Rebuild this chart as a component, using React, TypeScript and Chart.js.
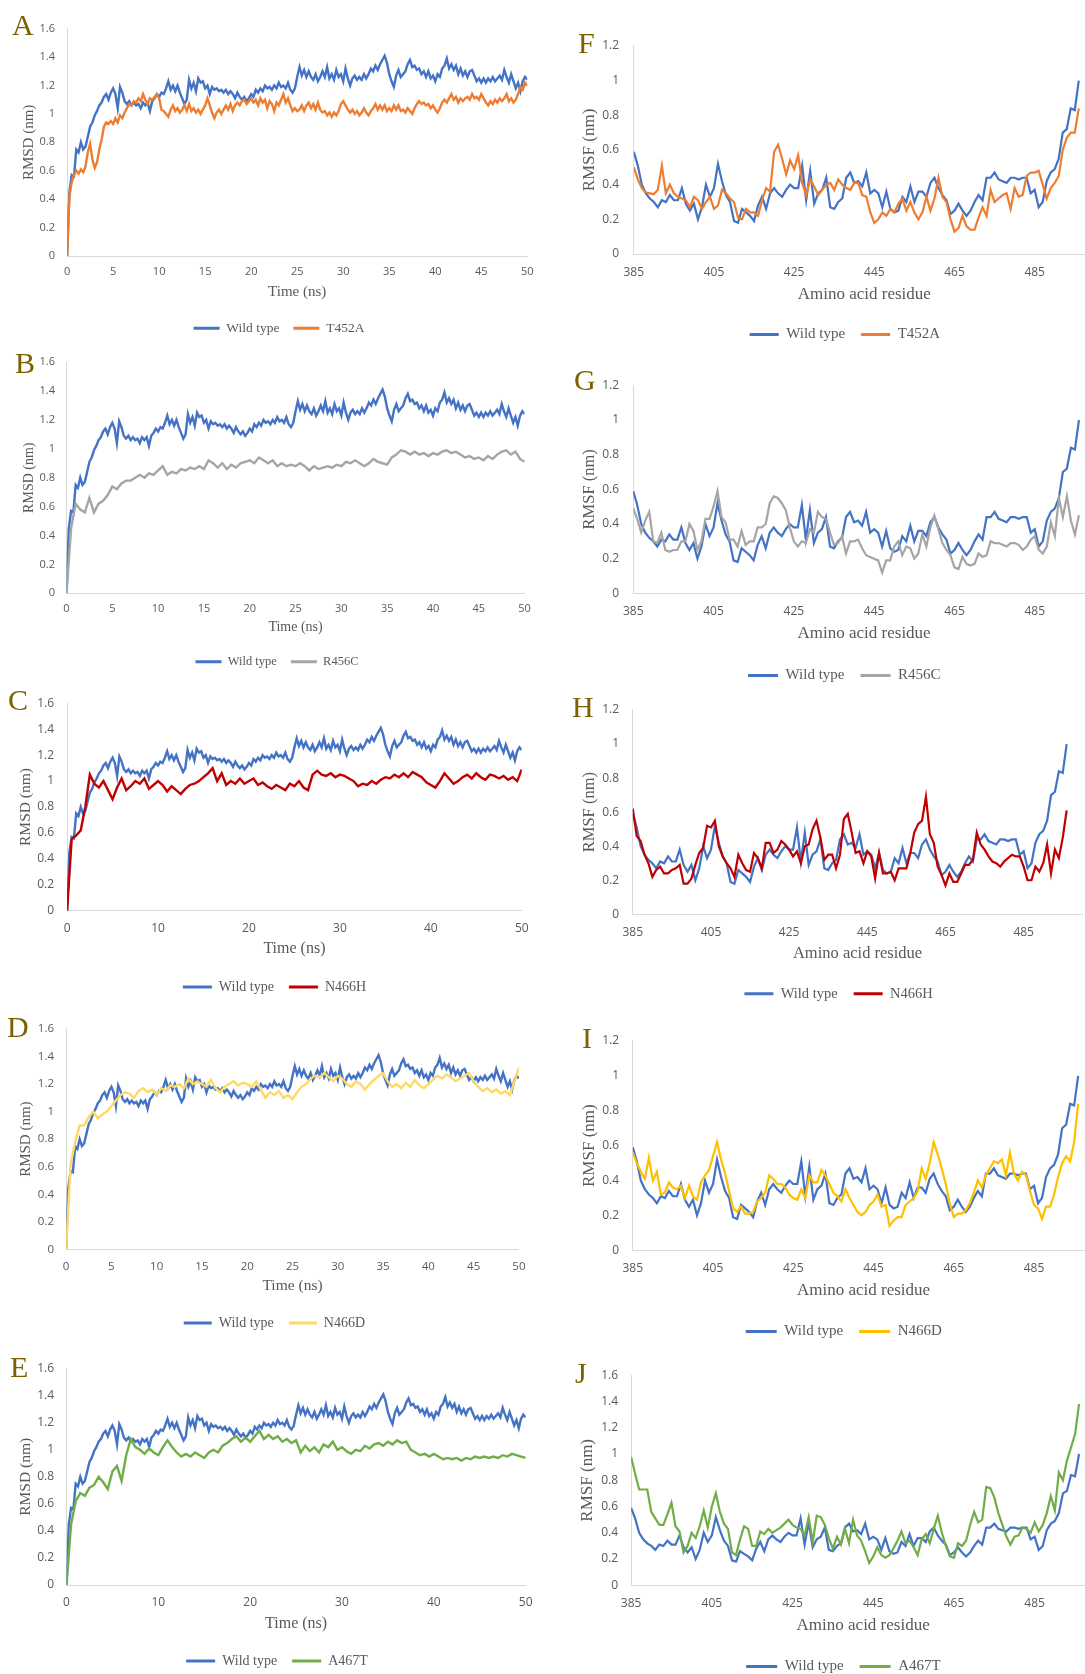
import React, { useEffect, useRef } from "react";
import { Chart, registerables } from "chart.js";
Chart.register(...registerables);

// ---------------- DATA ----------------
// Wild type and T452A RMSD (nm), sampled every 0.25 ns from 0 to 50 ns
const RMSD_WT = [
  0, 0.45, 0.57, 0.56, 0.75, 0.73, 0.80, 0.75, 0.77, 0.84,
  0.91, 0.94, 0.99, 1.02, 1.06, 1.08, 1.12, 1.14, 1.10, 1.15,
  1.18, 1.14, 1.04, 1.19, 1.15, 1.09, 1.07, 1.09, 1.06, 1.08,
  1.06, 1.07, 1.04, 1.08, 1.06, 1.08, 1.02, 1.09, 1.11, 1.14,
  1.12, 1.15, 1.14, 1.18, 1.23, 1.17, 1.20, 1.16, 1.20, 1.15,
  1.11, 1.07, 1.10, 1.24, 1.18, 1.22, 1.16, 1.25, 1.22, 1.23,
  1.18, 1.20, 1.14, 1.19, 1.17, 1.18, 1.16, 1.17, 1.15, 1.17,
  1.14, 1.16, 1.14, 1.11, 1.15, 1.12, 1.10, 1.12, 1.09, 1.11,
  1.14, 1.12, 1.17, 1.15, 1.18, 1.16, 1.20, 1.18, 1.19, 1.17,
  1.20, 1.18, 1.22, 1.19, 1.20, 1.18, 1.22, 1.17, 1.15, 1.18,
  1.26, 1.33, 1.27, 1.31, 1.26, 1.30, 1.26, 1.24, 1.28, 1.23,
  1.26, 1.30, 1.26, 1.33, 1.25, 1.28, 1.24, 1.31, 1.26, 1.28,
  1.23, 1.32, 1.25, 1.20, 1.25, 1.27, 1.24, 1.26, 1.24, 1.28,
  1.25, 1.28, 1.32, 1.30, 1.34, 1.31, 1.35, 1.38, 1.41, 1.36,
  1.28, 1.23, 1.19, 1.27, 1.31, 1.26, 1.28, 1.30, 1.35, 1.38,
  1.33, 1.34, 1.31, 1.32, 1.28, 1.30, 1.26, 1.30, 1.25, 1.27,
  1.23, 1.28, 1.26, 1.32, 1.34, 1.39, 1.32, 1.35, 1.31, 1.34,
  1.28, 1.32, 1.27, 1.30, 1.26, 1.30, 1.31, 1.27, 1.23, 1.25,
  1.22, 1.25, 1.22, 1.25, 1.23, 1.26, 1.23, 1.25, 1.27, 1.24,
  1.31, 1.26, 1.22, 1.28, 1.23, 1.18, 1.22, 1.16, 1.23, 1.26,
  1.24,
];
const RMSD_T452A = [
  0, 0.42, 0.52, 0.57, 0.60, 0.58, 0.61, 0.59, 0.63, 0.73,
  0.79, 0.68, 0.62, 0.66, 0.75, 0.82, 0.91, 0.94, 0.93, 0.95,
  0.93, 0.97, 0.94, 0.99, 0.97, 1.01, 1.04, 1.07, 1.06, 1.09,
  1.08, 1.11, 1.09, 1.14, 1.10, 1.07, 1.11, 1.10, 1.12, 1.14,
  1.11, 1.03, 1.02, 1.00, 0.98, 1.03, 1.06, 1.02, 1.04, 1.01,
  1.03, 1.06, 1.02, 1.07, 1.02, 1.04, 1.01, 1.03, 1.00, 1.03,
  1.06, 1.11, 1.06, 1.01, 0.97, 1.01, 1.03, 1.00, 1.03, 1.06,
  1.03, 1.07, 1.02, 1.06, 1.08, 1.06, 1.09, 1.10, 1.07, 1.09,
  1.11, 1.08, 1.10, 1.06, 1.11, 1.08, 1.10, 1.04, 1.09, 1.07,
  1.02, 1.08, 1.06, 1.10, 1.14, 1.08, 1.11, 1.06, 1.02, 1.04,
  1.02, 1.03, 1.06, 1.02, 1.06, 1.08, 1.04, 1.07, 1.03, 1.08,
  1.03, 1.01, 1.02, 0.99, 1.01, 0.98, 1.01, 0.99, 1.02, 1.07,
  1.09, 1.06, 1.03, 1.01, 1.03, 1.00, 1.02, 0.99, 1.01, 1.04,
  1.01, 0.99, 1.02, 1.04, 1.07, 1.03, 1.06, 1.03, 1.06, 1.02,
  1.04, 1.02, 1.06, 1.03, 1.06, 1.02, 1.03, 1.01, 1.04, 1.02,
  1.00, 1.04, 1.07, 1.09, 1.07, 1.08, 1.06, 1.07, 1.04, 1.06,
  1.03, 1.01, 1.04, 1.08, 1.10, 1.08, 1.11, 1.14, 1.10, 1.12,
  1.08, 1.11, 1.09, 1.11, 1.12, 1.10, 1.14, 1.11, 1.12, 1.10,
  1.14, 1.11, 1.08, 1.06, 1.09, 1.07, 1.10, 1.08, 1.11, 1.09,
  1.11, 1.14, 1.09, 1.11, 1.08, 1.10, 1.14, 1.19, 1.17, 1.22,
  1.20,
];
// Other mutants' RMSD (nm), sampled every 0.5 ns from 0 to 50 ns
const RMSD_R456C = [
  0, 0.45, 0.62, 0.58, 0.56, 0.66, 0.56, 0.62, 0.64, 0.68,
  0.74, 0.72, 0.76, 0.78, 0.78, 0.80, 0.82, 0.80, 0.83, 0.82,
  0.85, 0.88, 0.82, 0.84, 0.83, 0.86, 0.85, 0.87, 0.86, 0.88,
  0.86, 0.92, 0.90, 0.87, 0.90, 0.86, 0.89, 0.87, 0.90, 0.91,
  0.92, 0.90, 0.94, 0.92, 0.90, 0.92, 0.88, 0.90, 0.88, 0.89,
  0.88, 0.90, 0.88, 0.85, 0.88, 0.86, 0.87, 0.88, 0.87, 0.89,
  0.88, 0.91, 0.90, 0.92, 0.90, 0.88, 0.90, 0.93, 0.91, 0.90,
  0.89, 0.94, 0.96, 0.99, 0.98, 0.96, 0.98, 0.96, 0.97, 0.95,
  0.97, 0.96, 0.98, 0.99, 0.97, 0.98, 0.96, 0.94, 0.95, 0.93,
  0.94, 0.92, 0.95, 0.93, 0.96, 0.98, 0.99, 0.96, 0.98, 0.93,
  0.91,
];
const RMSD_N466H = [
  0, 0.55, 0.58, 0.62, 0.80, 1.05, 0.98, 0.95, 1.00, 0.93,
  0.86, 0.95, 1.02, 0.93, 0.96, 1.00, 0.98, 1.02, 0.94, 0.97,
  1.00, 0.97, 0.92, 0.96, 0.93, 0.90, 0.94, 0.97, 0.98, 1.00,
  1.03, 1.06, 1.10, 1.00, 1.06, 0.97, 1.00, 0.98, 1.02, 0.98,
  1.00, 1.02, 0.97, 0.99, 0.96, 0.94, 0.97, 0.95, 0.93, 0.98,
  0.96, 1.00, 0.95, 0.93, 1.05, 1.08, 1.05, 1.04, 1.06, 1.03,
  1.05, 1.04, 1.02, 1.00, 0.96, 0.98, 0.97, 1.00, 0.98, 1.01,
  1.03, 1.02, 1.05, 1.03, 1.06, 1.03, 1.07, 1.05, 1.03, 0.99,
  0.97, 0.95, 1.00, 1.06, 1.02, 0.98, 1.00, 1.03, 1.05, 1.02,
  1.06, 1.03, 1.01, 1.05, 1.04, 1.02, 1.04, 1.01, 1.03, 1.00,
  1.09,
];
const RMSD_N466D = [
  0, 0.62, 0.78, 0.90, 0.90, 0.96, 1.00, 0.95, 0.98, 1.00,
  1.04, 1.08, 1.12, 1.14, 1.13, 1.10, 1.15, 1.17, 1.14, 1.16,
  1.12, 1.17, 1.15, 1.19, 1.18, 1.20, 1.17, 1.24, 1.20, 1.22,
  1.20, 1.18, 1.23, 1.17, 1.14, 1.18, 1.20, 1.22, 1.19, 1.21,
  1.20, 1.18, 1.22, 1.16, 1.10, 1.14, 1.12, 1.15, 1.10, 1.12,
  1.09, 1.14, 1.18, 1.20, 1.24, 1.26, 1.25, 1.28, 1.25, 1.22,
  1.26, 1.24, 1.20, 1.18, 1.22, 1.20, 1.16, 1.20, 1.23, 1.26,
  1.28, 1.22, 1.18, 1.20, 1.17, 1.21, 1.18, 1.23, 1.19, 1.17,
  1.20, 1.23, 1.26, 1.24, 1.27, 1.25, 1.22, 1.24, 1.26, 1.28,
  1.22, 1.18, 1.15, 1.17, 1.14, 1.16, 1.13, 1.15, 1.12, 1.22,
  1.32,
];
const RMSD_A467T = [
  0, 0.45, 0.62, 0.68, 0.66, 0.72, 0.74, 0.80, 0.76, 0.71,
  0.84, 0.88, 0.77, 0.96, 1.08, 1.02, 1.00, 0.97, 1.01, 0.98,
  0.96, 1.02, 1.07, 1.02, 0.98, 0.95, 0.97, 0.95, 0.98, 0.96,
  0.94, 0.98, 1.00, 0.98, 1.03, 1.05, 1.08, 1.10, 1.06, 1.09,
  1.06, 1.10, 1.14, 1.08, 1.11, 1.08, 1.10, 1.06, 1.08, 1.05,
  1.07, 0.98, 1.03, 0.99, 1.02, 0.98, 1.04, 1.02, 1.06, 1.00,
  1.02, 0.99, 0.97, 1.00, 0.99, 1.03, 1.01, 1.04, 1.05, 1.03,
  1.06, 1.04, 1.07, 1.05, 1.06, 1.00, 0.98, 0.96, 0.97, 0.95,
  0.97, 0.95, 0.93, 0.94, 0.93, 0.94, 0.92, 0.94, 0.93, 0.95,
  0.94, 0.95, 0.94, 0.95, 0.94, 0.96, 0.95, 0.97, 0.96, 0.95,
  0.94,
];

// RMSF (nm) per residue, residues 385..496
const RMSF_WT = [
  0.59, 0.51, 0.40, 0.35, 0.32, 0.30, 0.27, 0.31, 0.30, 0.34,
  0.31, 0.31, 0.38, 0.29, 0.25, 0.29, 0.20, 0.27, 0.40, 0.33,
  0.38, 0.52, 0.42, 0.34, 0.30, 0.19, 0.18, 0.26, 0.24, 0.22,
  0.19, 0.28, 0.33, 0.26, 0.35, 0.38, 0.35, 0.33, 0.37, 0.40,
  0.38, 0.38, 0.51, 0.31, 0.48, 0.29, 0.35, 0.37, 0.44, 0.27,
  0.26, 0.30, 0.32, 0.44, 0.47, 0.41, 0.42, 0.39, 0.47, 0.35,
  0.37, 0.35, 0.27, 0.36, 0.26, 0.24, 0.25, 0.33, 0.30, 0.39,
  0.30, 0.36, 0.36, 0.33, 0.41, 0.44, 0.38, 0.34, 0.31, 0.23,
  0.25, 0.29, 0.25, 0.22, 0.25, 0.30, 0.34, 0.31, 0.44, 0.44,
  0.47, 0.43, 0.42, 0.41, 0.44, 0.44, 0.43, 0.44, 0.44, 0.35,
  0.37, 0.27, 0.30, 0.42, 0.47, 0.49, 0.55, 0.70, 0.72, 0.84,
  0.83, 1.00,
];
const RMSF_T452A = [
  0.50, 0.43, 0.38, 0.355, 0.35, 0.345, 0.37, 0.51, 0.35, 0.40,
  0.35, 0.33, 0.32, 0.31, 0.27, 0.33, 0.31, 0.26, 0.30, 0.33,
  0.26, 0.28, 0.37, 0.35, 0.32, 0.30, 0.21, 0.20, 0.26, 0.24,
  0.24, 0.22, 0.31, 0.38, 0.36, 0.59, 0.63, 0.55, 0.46, 0.54,
  0.49, 0.57, 0.41, 0.34, 0.43, 0.39, 0.34, 0.37, 0.40, 0.41,
  0.37, 0.43, 0.40, 0.38, 0.37, 0.41, 0.41, 0.34, 0.33, 0.24,
  0.18, 0.20, 0.24, 0.22, 0.26, 0.24, 0.29, 0.32, 0.25, 0.30,
  0.24, 0.20, 0.24, 0.33, 0.25, 0.32, 0.44, 0.33, 0.30, 0.20,
  0.13, 0.15, 0.22, 0.16, 0.14, 0.14, 0.21, 0.27, 0.22, 0.37,
  0.30, 0.32, 0.34, 0.35, 0.26, 0.38, 0.33, 0.34, 0.45, 0.47,
  0.47, 0.48, 0.40, 0.32, 0.38, 0.41, 0.45, 0.60, 0.67, 0.70,
  0.70, 0.84,
];
const RMSF_R456C = [
  0.49, 0.43, 0.35, 0.42, 0.47, 0.30, 0.29, 0.35, 0.25, 0.24,
  0.25, 0.25, 0.30, 0.30, 0.40, 0.36, 0.25, 0.30, 0.43, 0.43,
  0.50, 0.59, 0.44, 0.41, 0.31, 0.31, 0.27, 0.36, 0.28, 0.30,
  0.30, 0.38, 0.38, 0.40, 0.52, 0.56, 0.55, 0.52, 0.48, 0.38,
  0.30, 0.27, 0.30, 0.29, 0.37, 0.35, 0.47, 0.44, 0.43, 0.35,
  0.28, 0.29, 0.33, 0.23, 0.30, 0.30, 0.31, 0.26, 0.22, 0.21,
  0.20, 0.19, 0.12, 0.19, 0.19, 0.27, 0.30, 0.22, 0.27, 0.26,
  0.20, 0.23, 0.34, 0.27, 0.38, 0.45, 0.37, 0.29, 0.25, 0.22,
  0.15, 0.14, 0.21, 0.17, 0.16, 0.17, 0.23, 0.21, 0.22, 0.30,
  0.29, 0.29, 0.28, 0.27, 0.29, 0.29, 0.28, 0.25, 0.27, 0.31,
  0.33, 0.25, 0.23, 0.27, 0.41, 0.33, 0.55, 0.44, 0.56, 0.42,
  0.34, 0.45,
];
const RMSF_N466H = [
  0.62, 0.46, 0.43, 0.35, 0.30, 0.22, 0.26, 0.28, 0.24, 0.24,
  0.26, 0.27, 0.29, 0.18, 0.18, 0.21, 0.29, 0.36, 0.39, 0.52,
  0.51, 0.55, 0.40, 0.34, 0.30, 0.27, 0.22, 0.35, 0.30, 0.26,
  0.25, 0.36, 0.33, 0.27, 0.42, 0.42, 0.36, 0.38, 0.43, 0.41,
  0.38, 0.34, 0.37, 0.30, 0.40, 0.41, 0.50, 0.55, 0.45, 0.32,
  0.35, 0.35, 0.27, 0.35, 0.56, 0.59, 0.48, 0.36, 0.37, 0.30,
  0.37, 0.34, 0.21, 0.36, 0.24, 0.24, 0.25, 0.20, 0.27, 0.27,
  0.27, 0.36, 0.48, 0.53, 0.55, 0.69, 0.47, 0.42, 0.28, 0.23,
  0.17, 0.24, 0.19, 0.19, 0.24, 0.29, 0.29, 0.32, 0.48, 0.41,
  0.38, 0.34, 0.31, 0.30, 0.28, 0.31, 0.33, 0.35, 0.34, 0.34,
  0.28, 0.20, 0.20, 0.28, 0.25, 0.30, 0.41, 0.24, 0.38, 0.33,
  0.45, 0.61,
];
const RMSF_N466D = [
  0.56, 0.50, 0.45, 0.41, 0.53, 0.40, 0.45, 0.32, 0.33, 0.39,
  0.36, 0.35, 0.37, 0.30, 0.37, 0.31, 0.29, 0.39, 0.43, 0.46,
  0.54, 0.62, 0.52, 0.44, 0.34, 0.24, 0.22, 0.25, 0.21, 0.21,
  0.22, 0.28, 0.30, 0.33, 0.43, 0.41, 0.38, 0.38, 0.36, 0.32,
  0.30, 0.29, 0.35, 0.30, 0.43, 0.39, 0.39, 0.46, 0.43, 0.38,
  0.33, 0.31, 0.28, 0.35, 0.30, 0.26, 0.22, 0.20, 0.22, 0.26,
  0.28, 0.32, 0.25, 0.26, 0.14, 0.17, 0.19, 0.19, 0.26, 0.28,
  0.30, 0.34, 0.47, 0.41, 0.50, 0.62, 0.55, 0.47, 0.38, 0.27,
  0.19, 0.21, 0.21, 0.23, 0.27, 0.33, 0.40, 0.36, 0.43, 0.47,
  0.51, 0.50, 0.52, 0.43, 0.56, 0.44, 0.40, 0.45, 0.43, 0.34,
  0.26, 0.24, 0.18, 0.25, 0.25, 0.32, 0.42, 0.50, 0.54, 0.51,
  0.62, 0.84,
];
const RMSF_A467T = [
  0.98, 0.85, 0.73, 0.73, 0.73, 0.56, 0.51, 0.46, 0.46, 0.54,
  0.63, 0.45, 0.41, 0.25, 0.30, 0.40, 0.36, 0.45, 0.57, 0.44,
  0.60, 0.70, 0.56, 0.47, 0.43, 0.25, 0.23, 0.35, 0.45, 0.43,
  0.30, 0.30, 0.41, 0.39, 0.43, 0.40, 0.42, 0.44, 0.47, 0.50,
  0.46, 0.44, 0.43, 0.38, 0.52, 0.33, 0.53, 0.52, 0.46, 0.36,
  0.28, 0.37, 0.31, 0.43, 0.32, 0.50, 0.38, 0.34, 0.26, 0.17,
  0.22, 0.29, 0.23, 0.21, 0.23, 0.28, 0.34, 0.41, 0.32, 0.34,
  0.29, 0.23, 0.35, 0.39, 0.32, 0.43, 0.53, 0.40, 0.30, 0.22,
  0.21, 0.32, 0.30, 0.34, 0.46, 0.56, 0.48, 0.50, 0.75, 0.74,
  0.67, 0.55, 0.46, 0.37, 0.31, 0.37, 0.38, 0.44, 0.43, 0.40,
  0.48, 0.41, 0.46, 0.55, 0.68, 0.57, 0.86, 0.80, 0.95, 1.05,
  1.15, 1.38,
];

// sampling grids and tick labels
const TIME_QUARTER_NS = RMSD_WT.map((_, i) => i * 0.25);
const TIME_HALF_NS = RMSD_R456C.map((_, i) => i * 0.5);
const RESIDUES = RMSF_WT.map((_, i) => 385 + i);
const RMSF_TICKS = [385, 405, 425, 445, 465, 485];

// ---------------- STYLE / LAYOUT ----------------
const WT_COLOR = "#4472C4";
const TEXT_GRAY = "#595959";
const AXIS_LINE = "#D9D9D9";
const LETTER_COLOR = "#7F6000";
const SERIF = "'Liberation Serif', 'Times New Roman', serif";
const SANS = "'Open Sans', 'Noto Sans', sans-serif";

const PANELS: any[] = [
  { letter: "A", lx: 12, ly: 10, col: 0, kind: "rmsd", mutant: RMSD_T452A, mutTime: TIME_QUARTER_NS, label: "T452A", color: "#ED7D31", yMax: 1.6, xStep: 5,
    cl: 67.1, cr: 528.6, ct: 22.3, cb: 256, tickFont: 11, xTickY: 272, yTickRight: 55, xTitleY: 292, xTitleFont: 15, yTitleX: 29.3, yTitleFont: 15, legY: 328, legX: 279, legFont: 13.5, legBox: 26, legPad: 14 },
  { letter: "B", lx: 15, ly: 348, col: 0, kind: "rmsd", mutant: RMSD_R456C, mutTime: TIME_HALF_NS, label: "R456C", color: "#A5A5A5", yMax: 1.6, xStep: 5,
    cl: 66.5, cr: 525.1, ct: 356.7, cb: 593.3, tickFont: 11, xTickY: 609, yTickRight: 55, xTitleY: 627, xTitleFont: 14, yTitleX: 29.3, yTitleFont: 14, legY: 661.7, legX: 277, legFont: 12.5, legBox: 26, legPad: 14 },
  { letter: "C", lx: 8, ly: 685, col: 0, kind: "rmsd", mutant: RMSD_N466H, mutTime: TIME_HALF_NS, label: "N466H", color: "#C00000", yMax: 1.6, xStep: 10,
    cl: 67.1, cr: 524.1, ct: 695, cb: 910.7, tickFont: 12, xTickY: 928.3, yTickRight: 54, xTitleY: 948.3, xTitleFont: 16, yTitleX: 25.8, yTitleFont: 15.5, legY: 986.7, legX: 274.5, legFont: 14, legBox: 29, legPad: 15 },
  { letter: "D", lx: 7, ly: 1012, col: 0, kind: "rmsd", mutant: RMSD_N466D, mutTime: TIME_HALF_NS, label: "N466D", color: "#FFD966", yMax: 1.6, xStep: 5,
    cl: 66.1, cr: 521.7, ct: 1022.3, cb: 1249.3, tickFont: 11.5, xTickY: 1266.7, yTickRight: 54, xTitleY: 1286, xTitleFont: 15.5, yTitleX: 25.8, yTitleFont: 15, legY: 1323.3, legX: 274.4, legFont: 14, legBox: 28, legPad: 15 },
  { letter: "E", lx: 10, ly: 1352, col: 0, kind: "rmsd", mutant: RMSD_A467T, mutTime: TIME_HALF_NS, label: "A467T", color: "#70AD47", yMax: 1.6, xStep: 10,
    cl: 66.5, cr: 528.6, ct: 1361, cb: 1585, tickFont: 12, xTickY: 1602.7, yTickRight: 54, xTitleY: 1623.3, xTitleFont: 16, yTitleX: 25.8, yTitleFont: 15.5, legY: 1661, legX: 277, legFont: 14, legBox: 29, legPad: 15 },
  { letter: "F", lx: 578, ly: 28, col: 1, kind: "rmsf", mutant: RMSF_T452A, mutTime: RESIDUES, label: "T452A", color: "#ED7D31", yMax: 1.2,
    cl: 633.8, cr: 1094.8, ct: 36, cb: 254, tickFont: 12, xTickY: 273, yTickRight: 619, xTitleY: 295, xTitleFont: 17, yTitleX: 589.8, yTitleFont: 17, legY: 334, legX: 844.9, legFont: 15, legBox: 29, legPad: 16 },
  { letter: "G", lx: 574, ly: 365, col: 1, kind: "rmsf", mutant: RMSF_R456C, mutTime: RESIDUES, label: "R456C", color: "#A5A5A5", yMax: 1.2,
    cl: 633.2, cr: 1095, ct: 376, cb: 593.3, tickFont: 12, xTickY: 611.7, yTickRight: 619, xTitleY: 633.3, xTitleFont: 17, yTitleX: 589.8, yTitleFont: 16.5, legY: 675, legX: 844.3, legFont: 15, legBox: 30, legPad: 16 },
  { letter: "H", lx: 572, ly: 692, col: 1, kind: "rmsf", mutant: RMSF_N466H, mutTime: RESIDUES, label: "N466H", color: "#C00000", yMax: 1.2,
    cl: 632.8, cr: 1082.3, ct: 701.7, cb: 914.3, tickFont: 12, xTickY: 932.3, yTickRight: 619, xTitleY: 953.3, xTitleFont: 16.5, yTitleX: 589.8, yTitleFont: 16.5, legY: 993.3, legX: 838.5, legFont: 14.5, legBox: 29, legPad: 16 },
  { letter: "I", lx: 582, ly: 1023, col: 1, kind: "rmsf", mutant: RMSF_N466D, mutTime: RESIDUES, label: "N466D", color: "#FFC000", yMax: 1.2,
    cl: 632.8, cr: 1094.2, ct: 1032.3, cb: 1250.3, tickFont: 12, xTickY: 1269, yTickRight: 619, xTitleY: 1290.7, xTitleFont: 17, yTitleX: 589.8, yTitleFont: 17, legY: 1331, legX: 843.8, legFont: 15, legBox: 31, legPad: 16 },
  { letter: "J", lx: 575, ly: 1358, col: 1, kind: "rmsf", mutant: RMSF_A467T, mutTime: RESIDUES, label: "A467T", color: "#70AD47", yMax: 1.6,
    cl: 631.1, cr: 1095.2, ct: 1367.3, cb: 1585.3, tickFont: 12, xTickY: 1604, yTickRight: 618, xTitleY: 1626, xTitleFont: 17, yTitleX: 588, yTitleFont: 17, legY: 1666, legX: 843.4, legFont: 15, legBox: 31, legPad: 16 },
];

function buildLayout(c: any) {
  const CL = c.col === 0 ? 0 : 560;
  const CT = Math.floor(c.ct - 12);
  const padTop = c.ct - CT;
  const H = Math.round(c.legY + c.legFont / 2 + 10 - CT);
  const legendH = c.legFont + c.legPad + 10;
  const legendTop = CT + H - legendH;
  const xH = legendTop - c.cb;
  const plAbs = 2 * c.legX - c.cr;
  const W = c.col === 0 ? Math.ceil(c.cr + 14) : Math.ceil(c.cr - CL + 1);
  const padLeft = plAbs - CL;
  const padRight = W - (c.cr - CL);
  const yW = c.cl - plAbs;
  const xTickPad = c.xTickY - c.cb - (c.tickFont * 1.2) / 2;
  const yTickPad = c.cl - c.yTickRight;
  const xTitlePadB = legendTop - c.xTitleY - (c.xTitleFont * 1.2) / 2;
  const yTitlePadT = c.yTitleX - plAbs - (c.yTitleFont * 1.2) / 2;
  return { CL, CT, W, H, padTop, padLeft, padRight, xH, yW, xTickPad, yTickPad, xTitlePadB, yTitlePadT };
}

function PanelChart({ c }: { c: any }) {
  const ref = useRef<HTMLCanvasElement | null>(null);
  const L = buildLayout(c);
  useEffect(() => {
    const isRmsd = c.kind === "rmsd";
    const wtX = isRmsd ? TIME_QUARTER_NS : RESIDUES;
    const wt = isRmsd ? RMSD_WT : RMSF_WT;
    const toPts = (xs: number[], arr: number[]) => arr.map((v, i) => ({ x: xs[i], y: v }));
    const lw = isRmsd ? 2.4 : 2.2;
    const chart = new Chart(ref.current as HTMLCanvasElement, {
      type: "line",
      data: {
        datasets: [
          { label: "Wild type", data: toPts(wtX, wt), borderColor: WT_COLOR, backgroundColor: WT_COLOR, borderWidth: lw, pointRadius: 0, tension: 0, order: 2 },
          { label: c.label, data: toPts(c.mutTime, c.mutant), borderColor: c.color, backgroundColor: c.color, borderWidth: lw, pointRadius: 0, tension: 0, order: 1 },
        ],
      },
      options: {
        responsive: false,
        maintainAspectRatio: false,
        animation: false,
        devicePixelRatio: 1,
        events: [],
        layout: { padding: { left: L.padLeft, right: L.padRight, top: L.padTop, bottom: 0 } },
        plugins: {
          tooltip: { enabled: false },
          legend: {
            display: true,
            position: "bottom",
            align: "center",
            labels: {
              boxWidth: c.legBox,
              boxHeight: 3,
              padding: c.legPad,
              color: TEXT_GRAY,
              font: { family: SERIF, size: c.legFont, lineHeight: 1.2 },
              sort: (a: any, b: any) => a.datasetIndex - b.datasetIndex,
              generateLabels: (ch: any) =>
                (Chart as any).defaults.plugins.legend.labels.generateLabels(ch).map((it: any) => ({ ...it, lineWidth: 0 })),
            },
          },
        },
        scales: {
          x: {
            type: "linear",
            min: isRmsd ? 0 : 385,
            max: isRmsd ? 50 : 500,
            grid: { display: false, drawTicks: false },
            border: { display: true, color: AXIS_LINE, width: 1 },
            ticks: {
              stepSize: isRmsd ? c.xStep : 20,
              autoSkip: false,
              maxRotation: 0,
              padding: L.xTickPad,
              color: TEXT_GRAY,
              font: { family: SANS, size: c.tickFont, lineHeight: 1.2 },
              callback: (v: any) => String(v),
            },
            afterBuildTicks: isRmsd
              ? undefined
              : (s: any) => {
                  s.ticks = RMSF_TICKS.map((v) => ({ value: v }));
                },
            title: {
              display: true,
              text: isRmsd ? "Time (ns)" : "Amino acid residue",
              color: TEXT_GRAY,
              font: { family: SERIF, size: c.xTitleFont, lineHeight: 1.2 },
              padding: { top: 0, bottom: L.xTitlePadB },
            },
            afterFit: (s: any) => {
              s.height = L.xH;
            },
          },
          y: {
            type: "linear",
            min: 0,
            max: c.yMax,
            grid: { display: false, drawTicks: false },
            border: { display: true, color: AXIS_LINE, width: 1 },
            ticks: {
              stepSize: 0.2,
              padding: L.yTickPad,
              color: TEXT_GRAY,
              font: { family: SANS, size: c.tickFont, lineHeight: 1.2 },
              callback: (v: any) => String(Math.round(Number(v) * 10) / 10),
            },
            title: {
              display: true,
              text: isRmsd ? "RMSD (nm)" : "RMSF (nm)",
              color: TEXT_GRAY,
              font: { family: SERIF, size: c.yTitleFont, lineHeight: 1.2 },
              padding: { top: L.yTitlePadT, bottom: 0 },
            },
            afterFit: (s: any) => {
              s.width = L.yW;
            },
          },
        },
      } as any,
    });
    return () => chart.destroy();
  }, []);
  return (
    <canvas
      ref={ref}
      width={L.W}
      height={L.H}
      style={{ position: "absolute", left: L.CL, top: L.CT, width: L.W, height: L.H, display: "block" }}
    />
  );
}

export default function App() {
  return (
    <div
      style={{
        position: "absolute",
        left: 0,
        top: 0,
        width: 1085,
        height: 1674,
        overflow: "hidden",
        background: "#ffffff",
      }}
    >
      {PANELS.map((c) => (
        <PanelChart key={c.letter} c={c} />
      ))}
      {PANELS.map((c) => (
        <span
          key={"L" + c.letter}
          style={{
            position: "absolute",
            left: c.lx,
            top: c.ly,
            fontFamily: SERIF,
            fontSize: 30,
            lineHeight: "30px",
            color: LETTER_COLOR,
            whiteSpace: "nowrap",
          }}
        >
          {c.letter}
        </span>
      ))}
    </div>
  );
}
